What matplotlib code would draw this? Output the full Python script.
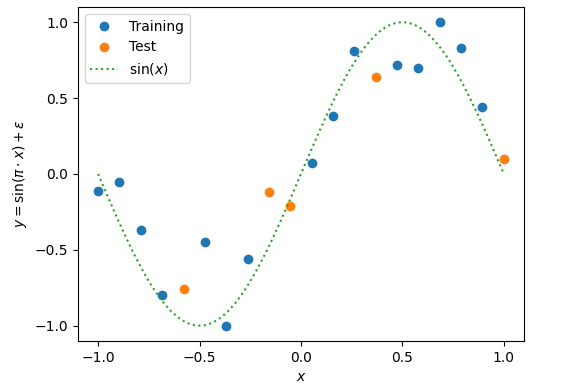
import numpy as np
import matplotlib
matplotlib.use("Agg")
import matplotlib.pyplot as plt
from matplotlib.ticker import MultipleLocator

# points
x_train = [-1.0, -0.895, -0.789, -0.684, -0.474, -0.368, -0.263, 0.053, 0.158, 0.263, 0.474, 0.579, 0.684, 0.789, 0.895]
y_train = [-0.11, -0.05, -0.37, -0.80, -0.45, -1.0, -0.56, 0.07, 0.38, 0.81, 0.72, 0.70, 1.0, 0.83, 0.44]
x_test = [-0.579, -0.158, -0.053, 0.368, 1.0]
y_test = [-0.76, -0.12, -0.21, 0.64, 0.10]

# the true function sin(pi*x) drawn as the dotted reference curve
x_curve = np.linspace(-1, 1, 100)
y_curve = np.sin(np.pi * x_curve)

fig, ax = plt.subplots(figsize=(5.81, 3.9), dpi=100)
fig.subplots_adjust(left=0.134, right=0.902, top=0.982, bottom=0.126)

ax.plot(x_train, y_train, 'o', color='C0', label='Training')
ax.plot(x_test, y_test, 'o', color='C1', label='Test')
ax.plot(x_curve, y_curve, ':', color='C2', label=r'$\sin(x)$')

ax.xaxis.set_major_locator(MultipleLocator(0.5))
ax.yaxis.set_major_locator(MultipleLocator(0.5))

ax.set_xlabel(r'$x$')
ax.set_ylabel(r'$y = \sin(\pi \cdot x) + \varepsilon$')
ax.legend(loc='upper left')

fig.savefig('out.png')
